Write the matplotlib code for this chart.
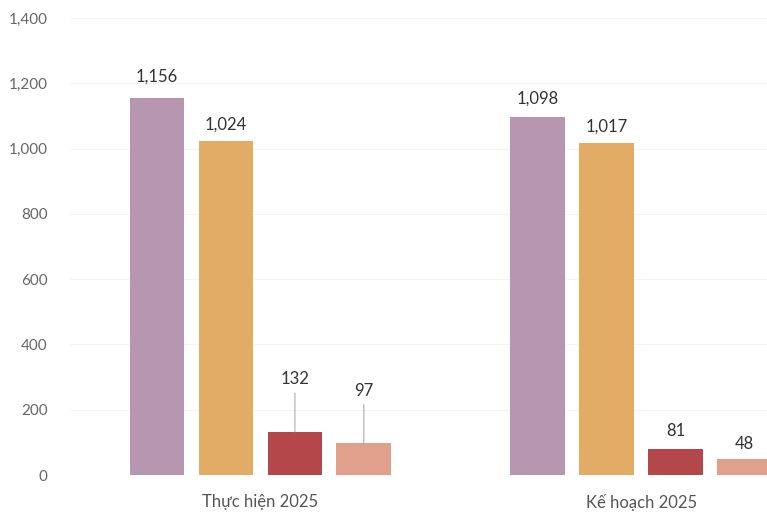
import matplotlib
matplotlib.use("Agg")
import matplotlib.pyplot as plt
import numpy as np

# dati
nhom = ["Thực hiện 2025", "Kế hoạch 2025"]
chi_tieu_1 = [1156, 1098]
chi_tieu_2 = [1024, 1017]
chi_tieu_3 = [132, 81]
chi_tieu_4 = [97, 48]
yticks = [0, 200, 400, 600, 800, 1000, 1200, 1400]

series = [chi_tieu_1, chi_tieu_2, chi_tieu_3, chi_tieu_4]
colors = ["#b797b0", "#e2ab66", "#b3474a", "#e1a08b"]

# khoảng cách nhãn so với đỉnh cột (điểm), theo [cột][nhóm]
offsets = [[9, 7], [6, 6], [32, 7], [32, 5]]

plt.rcParams["font.family"] = ["Lato", "DejaVu Sans"]

fig = plt.figure(figsize=(7.67, 5.13), dpi=100)
ax = fig.add_axes([0.0913, 0.074, 0.9087, 0.891])

x = np.arange(len(nhom))
step = 0.181
width = 0.144

for i, (vals, c) in enumerate(zip(series, colors)):
    pos = x + (i - 1.5) * step
    ax.bar(pos, vals, width=width, color=c, zorder=3)
    for j, (px, v) in enumerate(zip(pos, vals)):
        off = offsets[i][j]
        arrow = None
        if off > 25:
            arrow = dict(arrowstyle="-", color="#a0a0a0", lw=0.7,
                         shrinkA=2, shrinkB=0)
        ax.annotate(f"{v:,}", xy=(px, v), xytext=(0, off),
                    textcoords="offset points", ha="center", va="bottom",
                    fontsize=12, color="#333333", arrowprops=arrow)

ax.set_xlim(-0.5, 1.33)
ax.set_ylim(0, 1400)
ax.set_yticks(yticks)
ax.set_yticklabels([f"{t:,}" for t in yticks], fontsize=11, color="#666666")
ax.set_xticks(x)
ax.set_xticklabels(nhom, fontsize=12, color="#555555")
ax.tick_params(axis="y", length=0, pad=16)
ax.tick_params(axis="x", length=0, pad=14)

# lưới ngang rất mờ
ax.grid(axis="y", color="#f4f4f4", lw=0.8, zorder=0)
for s in ax.spines.values():
    s.set_visible(False)

fig.savefig("out.png", dpi=100)
